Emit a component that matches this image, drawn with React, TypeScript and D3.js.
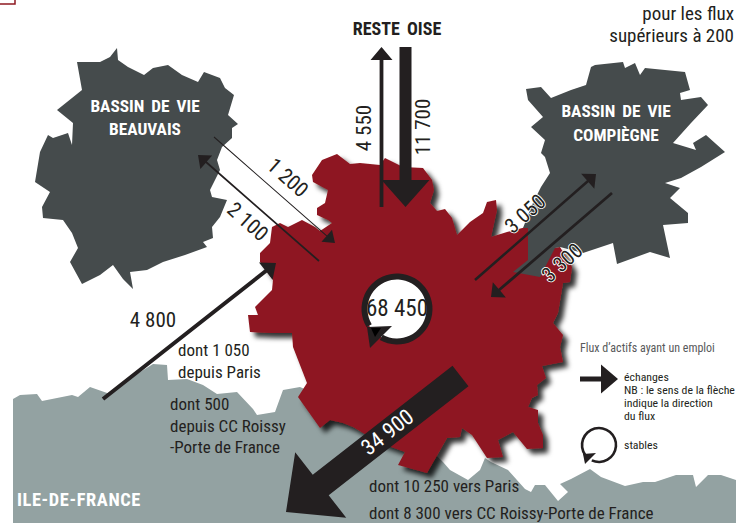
import React from 'react';
import * as d3 from 'd3';

type Pt = [number, number];

// flux d'actifs
const fluxValues = [11700, 4550, 34900, 4800, 2100, 1200, 3050, 3300];
const fluxLabels = ['11 700', '4 550', '34 900', '4 800', '2 100', '1 200', '3 050', '3 300'];
const fluxTails: Pt[] = [[405.5, 47], [381.5, 207], [460.5, 376], [103, 399], [319, 261], [214, 137], [475, 280], [612, 193]];
const fluxTips: Pt[] = [[405.5, 207], [381.5, 47], [286, 512], [276, 263], [198, 155], [335, 243], [596, 174], [491, 297]];
const fluxHeadW = [48, 22, 83, 22, 18, 16, 20, 20];
const fluxHeadL = [27, 13, 44, 13, 11, 11, 11, 11];

const stableValue = '68 450';

// contours
const beauvais: Pt[] = [[117, 48], [118, 60], [128, 67], [144, 75], [153, 68], [168, 65], [182, 75], [198, 82], [204, 72], [220, 78], [225, 88], [234, 95], [228, 115], [238, 124], [232, 128], [232, 138], [222, 147], [217, 160], [220, 170], [210, 190], [212, 197], [227, 200], [220, 217], [212, 227], [213, 238], [203, 242], [207, 247], [185, 255], [163, 262], [147, 270], [130, 272], [133, 289], [123, 279], [113, 265], [100, 275], [82, 284], [70, 262], [78, 248], [72, 233], [63, 220], [43, 218], [42, 207], [50, 192], [35, 182], [40, 152], [48, 135], [53, 138], [68, 133], [72, 145], [73, 123], [57, 110], [82, 90], [77, 62], [100, 62], [110, 57]];
const compiegne: Pt[] = [[595, 65], [623, 62], [625, 68], [635, 63], [640, 75], [645, 68], [685, 72], [690, 90], [680, 93], [681, 100], [701, 97], [708, 105], [691, 123], [673, 143], [696, 150], [693, 143], [706, 135], [725, 152], [701, 167], [681, 178], [665, 183], [680, 188], [670, 198], [688, 213], [688, 223], [663, 225], [670, 258], [650, 252], [617, 264], [613, 243], [583, 253], [560, 247], [555, 248], [540, 277], [513, 272], [528, 260], [528, 228], [523, 228], [532, 205], [541, 187], [550, 173], [545, 157], [541, 153], [545, 140], [531, 127], [543, 117], [528, 100], [526, 89], [541, 87], [551, 98], [571, 90], [586, 85], [591, 67]];
const zoneCentre: Pt[] = [[312, 175], [322, 160], [337, 154], [350, 164], [360, 163], [380, 165], [385, 158], [403, 167], [423, 168], [432, 180], [434, 190], [430, 203], [437, 211], [445, 209], [452, 218], [457, 235], [470, 222], [483, 213], [487, 202], [496, 200], [497, 210], [491, 237], [507, 232], [530, 226], [535, 250], [560, 247], [572, 267], [570, 282], [563, 283], [558, 313], [553, 323], [563, 335], [560, 347], [563, 362], [542, 366], [546, 378], [537, 385], [538, 395], [532, 398], [528, 407], [538, 410], [538, 423], [543, 435], [543, 448], [527, 449], [513, 432], [498, 440], [503, 457], [487, 458], [472, 435], [462, 428], [460, 437], [447, 438], [427, 473], [398, 465], [405, 452], [380, 443], [353, 427], [343, 423], [330, 420], [320, 428], [298, 397], [307, 383], [293, 347], [292, 333], [270, 333], [250, 332], [248, 315], [258, 315], [255, 307], [272, 290], [273, 280], [260, 262], [260, 253], [270, 243], [272, 227], [280, 223], [288, 227], [302, 220], [315, 227], [320, 231], [332, 223], [328, 220], [317, 215], [317, 208], [325, 203], [328, 190], [313, 182]];
const ileDeFrance: Pt[] = [[13, 399], [20, 395], [37, 394], [42, 401], [72, 395], [78, 397], [90, 387], [110, 394], [137, 374], [153, 364], [167, 365], [168, 380], [187, 379], [203, 385], [217, 394], [237, 392], [253, 409], [257, 415], [275, 412], [283, 390], [300, 387], [420, 440], [443, 462], [450, 470], [468, 480], [480, 470], [485, 458], [491, 462], [508, 470], [525, 489], [531, 492], [535, 485], [545, 485], [558, 501], [568, 492], [560, 484], [571, 479], [590, 469], [601, 477], [625, 486], [643, 482], [655, 482], [676, 475], [693, 475], [696, 487], [708, 475], [721, 475], [736, 480], [736, 523], [13, 523]];

const legendLines = ['échanges', 'NB : le sens de la flèche', 'indique la direction', 'du flux'];
const noteLines = ['pour les flux', 'supérieurs à 200'];

const NOIR = '#231f20';
const ROUGE = '#8e1820';
const ANTHRACITE = '#454b4c';
const GRIS = '#93a2a2';
const FONT = "'Liberation Sans Narrow', 'Roboto Condensed', 'Liberation Sans', sans-serif";

// epaisseur du trait selon le flux
const widthScale = d3.scaleLinear().domain([0, 1200, 4800, 11700, 34900]).range([0, 1, 4, 12, 26]);
const outline = d3.line<Pt>().curve(d3.curveLinearClosed);

function arrowPath(tail: Pt, tip: Pt, w: number, headW: number, headL: number) {
  const a = Math.atan2(tip[1] - tail[1], tip[0] - tail[0]);
  const ux = Math.cos(a), uy = Math.sin(a);
  const bx = tip[0] - ux * headL, by = tip[1] - uy * headL;
  const p = d3.path();
  p.moveTo(tail[0] - uy * w / 2, tail[1] + ux * w / 2);
  p.lineTo(bx - uy * w / 2, by + ux * w / 2);
  p.lineTo(bx - uy * headW / 2, by + ux * headW / 2);
  p.lineTo(tip[0], tip[1]);
  p.lineTo(bx + uy * headW / 2, by - ux * headW / 2);
  p.lineTo(bx + uy * w / 2, by - ux * w / 2);
  p.lineTo(tail[0] + uy * w / 2, tail[1] - ux * w / 2);
  p.closePath();
  return p.toString();
}

function ringPath(r: number, w: number, from: number, to: number) {
  return d3.arc()({
    innerRadius: r - w / 2,
    outerRadius: r + w / 2,
    startAngle: (from * Math.PI) / 180,
    endAngle: (to * Math.PI) / 180,
  }) as string;
}

function triangle(pts: Pt[]) {
  return outline(pts) as string;
}

export default function App() {
  return (
    <svg width={736} height={525} style={{ position: 'fixed', left: 0, top: 0, background: '#fff' }} fontFamily={FONT}>
      <defs>
        <filter id="ombre" x="-10%" y="-10%" width="125%" height="125%">
          <feDropShadow dx="5" dy="5" stdDeviation="2.5" floodColor="#000" floodOpacity="0.8" />
        </filter>
      </defs>

      <path d="M-2,-2H15V4H-2Z" fill="#fff" stroke={ROUGE} strokeWidth={1.5} />

      <path d={outline(ileDeFrance) as string} fill={GRIS} />
      <path d={outline(zoneCentre) as string} fill={ROUGE} filter="url(#ombre)" />
      <path d={outline(beauvais) as string} fill={ANTHRACITE} />
      <path d={outline(compiegne) as string} fill={ANTHRACITE} />

      {fluxValues.map((v, i) => (
        <path
          key={fluxLabels[i]}
          d={arrowPath(fluxTails[i], fluxTips[i], widthScale(v), fluxHeadW[i], fluxHeadL[i])}
          fill={NOIR}
        />
      ))}

      {/* stables */}
      <g transform="translate(397,309)">
        <circle r={32.5} fill="#fff" />
        <path d={ringPath(32.5, 6, 239, 569)} fill={NOIR} />
      </g>
      <path d={triangle([[367, 327], [392, 326], [370, 348]])} fill={NOIR} />
      <path d={triangle([[371, 328], [381, 328], [375, 337]])} fill="#000" />
      <text x={397} y={316} textAnchor="middle" fontSize={23} fill={NOIR}>{stableValue}</text>

      {/* titres */}
      <text x={397} y={35} textAnchor="middle" fontSize={18} fontWeight="bold" fill={NOIR} wordSpacing={3}>RESTE OISE</text>
      {noteLines.map((t, i) => (
        <text key={t} x={734} y={20 + i * 22} textAnchor="end" fontSize={19} fill={NOIR}>{t}</text>
      ))}
      <g fill="#fff" fontWeight="bold" fontSize={17.3} textAnchor="middle" wordSpacing={3}>
        <text x={145} y={112}>BASSIN DE VIE</text>
        <text x={145} y={135}>BEAUVAIS</text>
        <text x={616} y={117}>BASSIN DE VIE</text>
        <text x={616} y={141}>COMPIÈGNE</text>
      </g>
      <text x={17} y={506} fill="#fff" fontWeight="bold" fontSize={18.4} letterSpacing={0.6}>ILE-DE-FRANCE</text>

      {/* valeurs des flux */}
      <g fontSize={21} fill={NOIR} textAnchor="middle">
        <text transform="translate(430,127) rotate(-90)">{fluxLabels[0]}</text>
        <text transform="translate(371,128) rotate(-90)">{fluxLabels[1]}</text>
        <text x={153} y={327}>{fluxLabels[3]}</text>
        <text transform="translate(283,183) rotate(42)">{fluxLabels[5]}</text>
        <text transform="translate(243,227) rotate(42)">{fluxLabels[4]}</text>
      </g>
      <text transform="translate(392,438) rotate(-38)" fontSize={22} fill="#fff" textAnchor="middle">{fluxLabels[2]}</text>
      <g fontSize={21} fill={NOIR} stroke="#fff" strokeWidth={1.8} paintOrder="stroke" textAnchor="middle">
        <text transform="translate(530,219) rotate(-42)">{fluxLabels[6]}</text>
        <text transform="translate(567,268) rotate(-42)">{fluxLabels[7]}</text>
      </g>

      {/* detail */}
      <g fontSize={17} fill={NOIR}>
        <text x={178} y={356}>dont 1 050</text>
        <text x={178} y={378}>depuis Paris</text>
        <text x={170} y={410}>dont 500</text>
        <text x={170} y={432}>depuis CC Roissy</text>
        <text x={170} y={453}>-Porte de France</text>
        <text x={369} y={492}>dont 10 250 vers Paris</text>
        <text x={369} y={519}>dont 8 300 vers CC Roissy-Porte de France</text>
      </g>

      {/* legende */}
      <text x={580} y={352} fontSize={12} fill="#58595b">Flux d’actifs ayant un emploi</text>
      <path d={arrowPath([580, 379], [618, 379], 5, 29, 17)} fill={NOIR} />
      <g fontSize={11.8} fill={NOIR}>
        {legendLines.map((t, i) => (
          <text key={t} x={624} y={381 + i * 13}>{t}</text>
        ))}
        <text x={624} y={449}>stables</text>
      </g>
      <g transform="translate(599,445)">
        <path d={ringPath(17, 2.6, 235, 565)} fill={NOIR} />
      </g>
      <path d={triangle([[583, 454], [596, 453], [585, 464]])} fill={NOIR} />
    </svg>
  );
}
